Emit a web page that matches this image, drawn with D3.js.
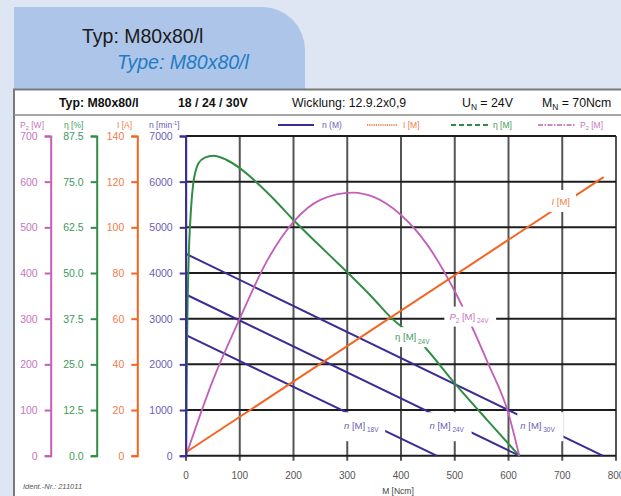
<!DOCTYPE html>
<html><head><meta charset="utf-8">
<script src="https://cdn.jsdelivr.net/npm/d3@7"></script>
<style>
body{margin:0;background:#dfe6f3;}
svg{display:block;font-family:"Liberation Sans",Arial,Helvetica,sans-serif;}
</style>
</head><body>
<svg id="c" width="621" height="496"></svg>
<script>
// ---------- data ----------
const mTicks = [0,100,200,300,400,500,600,700,800];
const nTicks = [0,1000,2000,3000,4000,5000,6000,7000];
const p2Ticks = [0,100,200,300,400,500,600,700];
const etaTicks = [0,12.5,25,37.5,50,62.5,75,87.5];
const iTicks = [0,20,40,60,80,100,120,140];

const n18V_M = [0,466],  n18V_n = [2640,0];
const n24V_M = [0,620],  n24V_n = [3530,0];
const n30V_M = [0,775],  n30V_n = [4420,0];
const cur_M = [0,777],   cur_A = [1.5,122];
const eta_M = [0,1,2,3,4.3,5.5,7.4,10,13.6,18,23,35,51,75,100,131.5,165,200,245,286,300,348,380,435,500,560,620];
const eta_P = [0,18,32,42,50,56.5,62.7,69,74.6,78,80,81.6,82.1,81,78.7,74.8,70,64.5,58,52.2,50.2,43.1,38,31.2,19.8,9.8,0];
const p2_M = [0,50,100,150,200,250,310,350,400,450,500,562,600,620];
const p2_W = [0,165,300,425,512,560,576,566,527,460,360,202,92,0];

// ---------- setup ----------
const svg = d3.select("#c");
const C = {n:"#3b2c95", nT:"#6a5db3", eta:"#2f8d45", etaT:"#3e9a58", I:"#f26522", IT:"#f27a48", p2:"#c35fb7", p2T:"#c874c0"};

const x = d3.scaleLinear().domain([0,800]).range([186,616]);
const yN = d3.scaleLinear().domain([0,7000]).range([455.7,136]);
const yP = d3.scaleLinear().domain([0,700]).range(yN.range());
const yE = d3.scaleLinear().domain([0,87.5]).range(yN.range());
const yI = d3.scaleLinear().domain([0,140]).range(yN.range());

// tab
svg.append("path")
  .attr("d","M14,89 V7 H262 A43,43 0 0 1 305,50 V89 Z")
  .attr("fill","#adc5e8");
svg.append("text").attr("x",82).attr("y",43).attr("font-size",19.5).attr("fill","#1b1b1b")
  .text("Typ: M80x80/l");
svg.append("text").attr("x",117).attr("y",69).attr("font-size",19.5).attr("fill","#1f7bc6")
  .attr("font-style","italic").text("Type: M80x80/l");

// white box
svg.append("rect").attr("x",14).attr("y",89).attr("width",607).attr("height",407).attr("fill","#fff");
svg.append("path").attr("d","M14,496 V89.5 H621").attr("fill","none").attr("stroke","#7a7a7a").attr("stroke-width",2);
svg.append("line").attr("x1",14).attr("x2",621).attr("y1",115).attr("y2",115).attr("stroke","#8a8a8a").attr("stroke-width",1.3);

// text helper: parts {t, small, dy, it}
function subText(g, xx, yy, parts, color, size){
  const t = g.append("text").attr("x",xx).attr("y",yy).attr("fill",color).attr("font-size",size);
  parts.forEach(p=>{
    const s = t.append("tspan").text(p.t);
    if(p.small) s.attr("font-size",size*0.68);
    if(p.dy) s.attr("dy",p.dy);
    if(p.it) s.attr("font-style","italic");
  });
  return t;
}

// header
const hdr = svg.append("g").attr("fill","#111");
subText(hdr,59,107,[{t:"Typ: M80x80/l"}],"#111",12.3).attr("font-weight","bold");
subText(hdr,178,107,[{t:"18 / 24 / 30V"}],"#111",12.3).attr("font-weight","bold");
subText(hdr,292,107,[{t:"Wicklung: 12.9.2x0,9"}],"#111",12.3);
subText(hdr,462,107,[{t:"U"},{t:"N",small:true,dy:3},{t:" = 24V",dy:-3}],"#111",12.3);
subText(hdr,542,107,[{t:"M"},{t:"N",small:true,dy:3},{t:" = 70Ncm",dy:-3}],"#111",12.3);

// axis titles
const at = svg.append("g");
subText(at,20,128,[{t:"P"},{t:"2",small:true,dy:2},{t:" [W]",dy:-2}],C.p2T,8.5);
subText(at,64,128,[{t:"η [%]"}],C.etaT,8.5);
subText(at,117,128,[{t:"I [A]"}],C.IT,8.5);
subText(at,149,128,[{t:"n [min"},{t:"-1",small:true,dy:-3},{t:"]",dy:3}],C.nT,8.5);

// legend
const lg = svg.append("g");
const legend = [
  {x1:278,x2:314,c:C.n,tc:C.nT,dash:null,w:1.8,parts:[{t:"n (M)"}],tx:322},
  {x1:367,x2:397,c:C.I,tc:C.IT,dash:"1.2,1",w:1.3,parts:[{t:"I [M]"}],tx:403},
  {x1:451,x2:488,c:C.eta,tc:C.etaT,dash:"5,3",w:1.8,parts:[{t:"η [M]"}],tx:493},
  {x1:538,x2:575,c:C.p2,tc:C.p2T,dash:"5,1.5,1.5,1.5",w:1.3,parts:[{t:"P"},{t:"2",small:true,dy:2},{t:" [M]",dy:-2}],tx:580}
];
legend.forEach(l=>{
  lg.append("line").attr("x1",l.x1).attr("x2",l.x2).attr("y1",125).attr("y2",125)
    .attr("stroke",l.c).attr("stroke-width",l.w).attr("stroke-dasharray",l.dash);
  subText(lg,l.tx,128,l.parts,l.tc,8.5);
});

// grid
const grid = svg.append("g");
grid.selectAll("line.v").data(mTicks).join("line").attr("class","v")
  .attr("x1",d=>x(d)).attr("x2",d=>x(d)).attr("y1",yN(7000)).attr("y2",yN(0)+5)
  .attr("stroke","#555").attr("stroke-width",2);
grid.selectAll("line.h").data(nTicks).join("line").attr("class","h")
  .attr("x1",x(0)).attr("x2",x(800)).attr("y1",d=>yN(d)).attr("y2",d=>yN(d))
  .attr("stroke","#1c1c1c").attr("stroke-width",2);

// x labels
svg.append("g").attr("font-size",10).attr("fill","#555").attr("text-anchor","middle")
  .selectAll("text").data(mTicks).join("text")
  .attr("x",d=>x(d)).attr("y",479).text(d=>d);
svg.append("text").attr("x",398).attr("y",494).attr("font-size",8.5).attr("fill","#444")
  .attr("text-anchor","middle").text("M [Ncm]");
svg.append("text").attr("x",23).attr("y",489).attr("font-size",7.5).attr("fill","#555")
  .attr("font-style","italic").text("Ident.-Nr.: 211011");

// curves
const plot = svg.append("g");
const zip = (a,b)=>a.map((v,i)=>[v,b[i]]);
function drawLine(data, ys, color, w, curve){
  plot.append("path").datum(data)
    .attr("d", d3.line().x(d=>x(d[0])).y(d=>ys(d[1])).curve(curve||d3.curveLinear))
    .attr("fill","none").attr("stroke",color).attr("stroke-width",w);
}
drawLine(zip(n18V_M,n18V_n), yN, C.n, 2);
drawLine(zip(n24V_M,n24V_n), yN, C.n, 2);
drawLine(zip(n30V_M,n30V_n), yN, C.n, 2);
drawLine(zip(eta_M,eta_P), yE, C.eta, 2, d3.curveMonotoneX);
drawLine(zip(p2_M,p2_W), yP, C.p2, 1.8, d3.curveMonotoneX);
drawLine(zip(cur_M,cur_A), yI, C.I, 2);

// labels with white backgrounds
const labels = [
  {m:294, n:580, parts:[{t:"n",it:true},{t:" [M]"},{t:" 18V",small:true,dy:3}], c:C.nT, pl:6, pr:6, pt:8, pb:8},
  {m:453, n:580, parts:[{t:"n",it:true},{t:" [M]"},{t:" 24V",small:true,dy:3}], c:C.nT, pl:2, pr:7, pt:8, pb:8},
  {m:622, n:580, parts:[{t:"n",it:true},{t:" [M]"},{t:" 30V",small:true,dy:3}], c:C.nT, pl:3, pr:8, pt:8, pb:8},
  {m:389, n:2530, parts:[{t:"η [M]"},{t:" 24V",small:true,dy:4}], c:C.etaT, pl:4, pr:3, pt:4, pb:2},
  {m:490, n:2980, parts:[{t:"P",it:true},{t:"2",small:true,dy:3},{t:" [M]",dy:-3},{t:" 24V",small:true,dy:3}], c:C.p2T, pl:5, pr:7, pt:4, pb:3},
  {m:680, n:5490, parts:[{t:"I",it:true},{t:" [M]"}], c:C.IT, pl:5, pr:6, pt:6, pb:5}
];
const lbl = svg.append("g");
labels.forEach(l=>{
  const g = lbl.append("g");
  const rect = g.append("rect").attr("fill","#fff");
  const t = subText(g, x(l.m), yN(l.n), l.parts, l.c, 9.5);
  const b = t.node().getBBox();
  rect.attr("x",b.x-l.pl).attr("y",b.y-l.pt).attr("width",b.width+l.pl+l.pr).attr("height",b.height+l.pt+l.pb);
});

// y axes
function yAxis(scale, ticks, fmt, px, color, tcolor){
  const g = svg.append("g").attr("transform",`translate(${px},0)`)
    .call(d3.axisLeft(scale).tickValues(ticks).tickFormat(fmt).tickSize(6).tickSizeOuter(6).tickPadding(7));
  g.select(".domain").attr("stroke",color).attr("stroke-width",2);
  g.selectAll(".tick line").attr("stroke",color).attr("stroke-width",2);
  g.selectAll(".tick text").attr("fill",tcolor).attr("font-size",10.5)
    .attr("font-family","'Liberation Sans',Arial,sans-serif");
}
yAxis(yP, p2Ticks, d3.format("d"), 50.7, C.p2, C.p2T);
yAxis(yE, etaTicks, d3.format(".1f"), 96.7, C.eta, C.etaT);
yAxis(yI, iTicks, d3.format("d"), 137.3, C.I, C.IT);
yAxis(yN, nTicks, d3.format("d"), 185.7, C.n, C.nT);
</script>
</body></html>
